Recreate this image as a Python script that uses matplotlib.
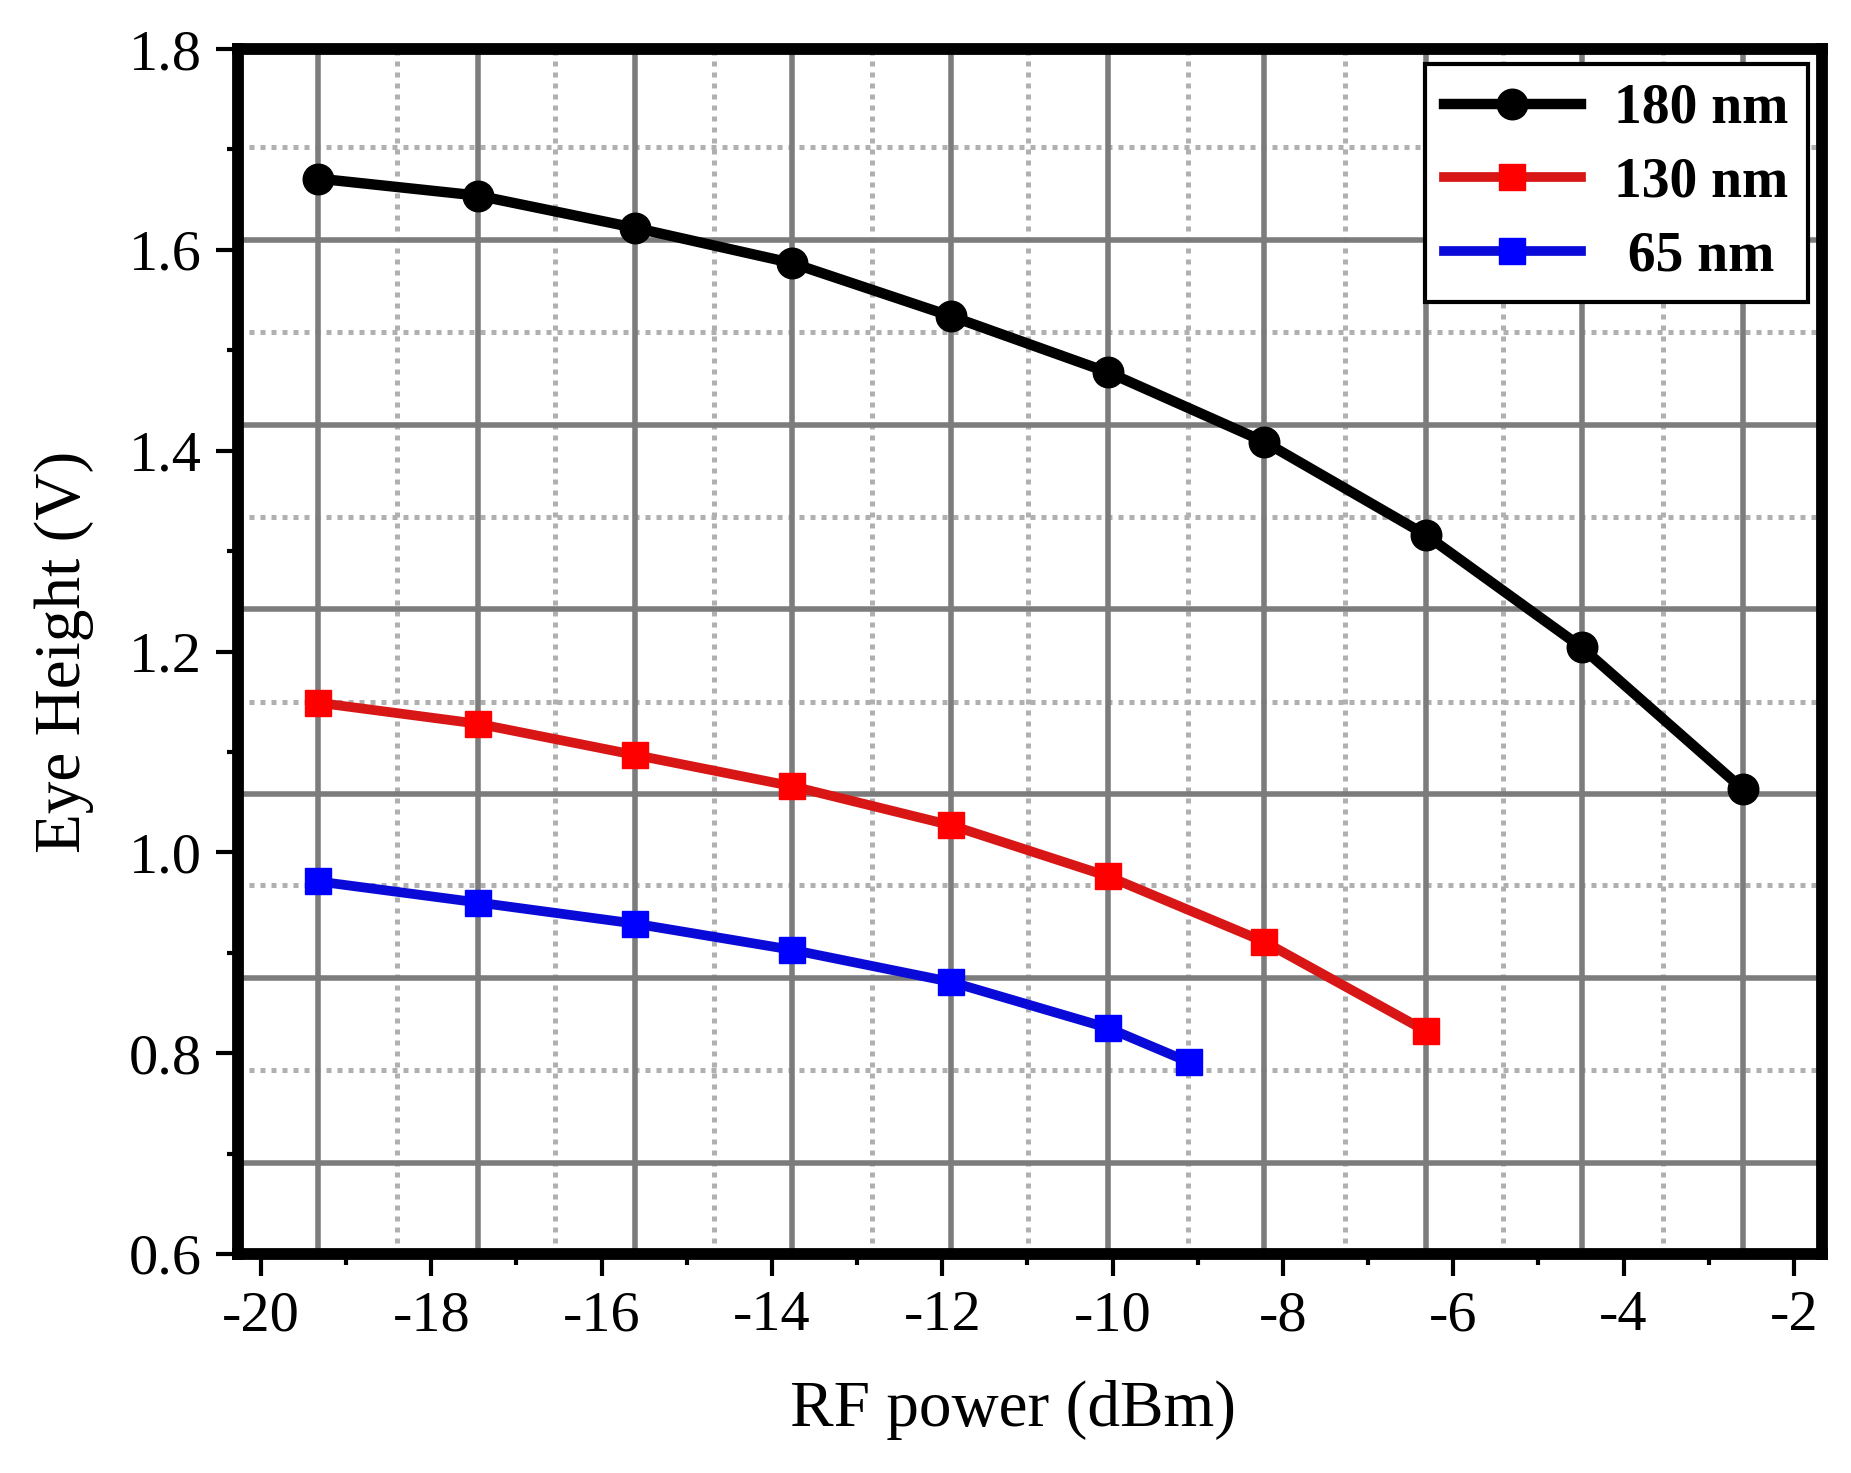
import numpy as np
import matplotlib
matplotlib.use("Agg")
import matplotlib.pyplot as plt
from matplotlib.ticker import MultipleLocator

plt.rcParams["font.family"] = ["Liberation Serif", "DejaVu Serif"]
plt.rcParams["axes.unicode_minus"] = False

# RF power (dBm) sweep points
x_180 = [-19.33, -17.45, -15.61, -13.77, -11.90, -10.05, -8.22, -6.32, -4.49, -2.60]
y_180 = [1.671, 1.654, 1.622, 1.587, 1.534, 1.478, 1.409, 1.316, 1.204, 1.063]

x_130 = [-19.33, -17.45, -15.61, -13.77, -11.90, -10.05, -8.22, -6.32]
y_130 = [1.149, 1.128, 1.097, 1.066, 1.027, 0.976, 0.911, 0.822]

x_65 = [-19.33, -17.45, -15.61, -13.77, -11.90, -10.05, -9.10]
y_65 = [0.971, 0.950, 0.929, 0.903, 0.871, 0.825, 0.791]

labels = ["180 nm", "130 nm", " 65 nm"]

# the background "graph paper" of the original figure (not aligned with ticks)
grid_x_solid = x_180
grid_x_dotted = [-18.40, -16.55, -14.68, -12.83, -10.99, -9.11, -7.27, -5.42, -3.54]
grid_y_solid = [1.610, 1.426, 1.242, 1.058, 0.875, 0.691]
grid_y_dotted = [1.702, 1.518, 1.334, 1.150, 0.967, 0.783]

fig = plt.figure(figsize=(18.51, 14.73), dpi=100)
ax = fig.add_axes([0.1286, 0.1487, 0.8557, 0.8180])

# grid
ax.vlines(grid_x_dotted, 0, 1, transform=ax.get_xaxis_transform(),
          colors="#b0b0b0", linewidth=3.6, linestyles=(0, (1, 1.2)), zorder=1)
ax.hlines(grid_y_dotted, 0, 1, transform=ax.get_yaxis_transform(),
          colors="#b0b0b0", linewidth=3.6, linestyles=(0, (1, 1.2)), zorder=1)
ax.vlines(grid_x_solid, 0, 1, transform=ax.get_xaxis_transform(),
          colors="#7c7c7c", linewidth=4.0, zorder=1.5)
ax.hlines(grid_y_solid, 0, 1, transform=ax.get_yaxis_transform(),
          colors="#7c7c7c", linewidth=4.0, zorder=1.5)

ax.plot(x_180, y_180, color="black", lw=7.5, marker="o", ms=22,
        mfc="black", mec="black", label=labels[0], zorder=5)
ax.plot(x_130, y_130, color="#d81616", lw=7.0, marker="s", ms=19,
        mfc="#ff0000", mec="#ff0000", label=labels[1], zorder=4)
ax.plot(x_65, y_65, color="#0a0ad8", lw=7.0, marker="s", ms=19,
        mfc="#0000ff", mec="#0000ff", label=labels[2], zorder=4)

ax.set_xlim(-20.27, -1.67)
ax.set_ylim(0.6, 1.8)
ax.xaxis.set_major_locator(MultipleLocator(2))
ax.xaxis.set_minor_locator(MultipleLocator(1))
ax.yaxis.set_major_locator(MultipleLocator(0.2))
ax.yaxis.set_minor_locator(MultipleLocator(0.1))
ax.yaxis.set_major_formatter(matplotlib.ticker.FormatStrFormatter("%.1f"))

for s in ax.spines.values():
    s.set_linewidth(8.5)
    s.set_zorder(6)

ax.tick_params(which="major", direction="out", length=16, width=3,
               labelsize=42, pad=10)
ax.tick_params(which="minor", direction="out", length=8, width=3)

ax.set_xlabel("RF power (dBm)", fontsize=47, labelpad=27)
ax.xaxis.label.set_x(0.489)
ax.set_ylabel("Eye Height (V)", fontsize=47, labelpad=25)

leg = ax.legend(loc="upper right", bbox_to_anchor=(0.991, 0.988),
                borderaxespad=0, frameon=True, fancybox=False,
                prop={"size": 40, "weight": "bold"}, handlelength=2.45,
                handletextpad=0.6, labelspacing=0.39, borderpad=0.35,
                framealpha=1)
leg.get_frame().set_edgecolor("black")
leg.get_frame().set_linewidth(3)
leg.set_zorder(7)

fig.savefig("out.png", dpi=100)
